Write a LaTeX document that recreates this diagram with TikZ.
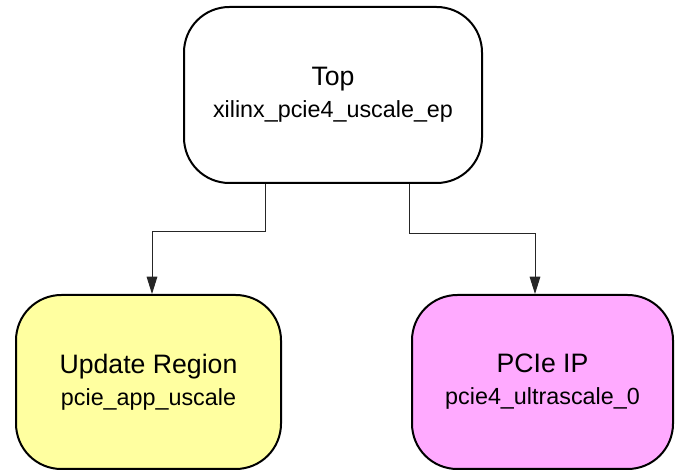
\documentclass[tikz,border=0pt]{standalone}
\usepackage{fontspec}
\setmainfont{Liberation Sans}
\usepackage{tikz}
\usetikzlibrary{arrows.meta}
\definecolor{regionyellow}{RGB}{255,255,160}
\definecolor{ippink}{RGB}{255,170,255}
\tikzset{
  block/.style={draw,line width=1.5pt,rounded corners=34pt,align=center,
    font=\fontsize{20}{24}\selectfont},
  link/.style={draw=black!85,line width=0.75pt,-{Triangle[length=13pt,width=8pt]}}
}
\newcommand{\inst}[1]{{\fontsize{17.5}{24}\selectfont #1}}

\begin{document}
\begin{tikzpicture}[x=0.75pt,y=0.75pt]
\useasboundingbox (0,0) rectangle (676,472);
% The blocks
\node[block,minimum width=223.5pt,minimum height=132pt] (top) at (333,377)
  {Top\\\inst{xilinx\_pcie4\_uscale\_ep}};
\node[block,fill=regionyellow,minimum width=198.75pt,minimum height=130.5pt] (upd) at (148.5,90)
  {Update Region\\\inst{pcie\_app\_uscale}};
\node[block,fill=ippink,minimum width=195.75pt,minimum height=130.5pt] (pcie) at (542.5,90)
  {PCIe IP\\\inst{pcie4\_ultrascale\_0}};
% The bends of the connectors
\coordinate (lbend) at (265,240);
\coordinate (lend) at (152,0);
\coordinate (rbend) at (409,238);
\coordinate (rend) at (535,0);
% The connectors
\draw[link] (top.south -| lbend) -- (lbend) -| (upd.north -| lend);
\draw[link] (top.south -| rbend) -- (rbend) -| (pcie.north -| rend);
\end{tikzpicture}
\end{document}
